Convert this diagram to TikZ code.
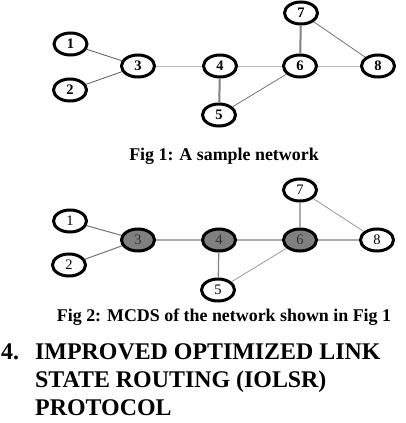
\documentclass[tikz,border=0pt]{standalone}
\usepackage{fontspec}
\setmainfont{Liberation Serif}
\usepackage{xcolor}
\usetikzlibrary{shapes.geometric}

\definecolor{mcdsfill}{HTML}{808080}
\definecolor{mcdstext}{HTML}{333333}

\tikzset{
  host/.style={ellipse, draw=black, line width=3pt, fill=white,
    minimum width=33pt, minimum height=22pt, inner sep=0pt,
    font=\fontsize{14.5}{14.5}\selectfont\bfseries},
  dominator/.style={host, fill=mcdsfill, text=mcdstext,
    font=\fontsize{14.5}{14.5}\selectfont},
  plain/.style={host, font=\fontsize{14.5}{14.5}\selectfont},
  caption/.style={anchor=base, inner sep=0pt,
    font=\fontsize{17.9}{18}\selectfont\bfseries},
  heading/.style={anchor=base west, inner sep=0pt,
    font=\fontsize{23.9}{28}\selectfont\bfseries}
}

\begin{document}
\begin{tikzpicture}[x=1pt,y=-1pt]
        \useasboundingbox[fill=white] (0,0) rectangle (405,423);

        % first graph
        \node[host] (n1) at (70.5,44) {1};
        \node[host] (n2) at (70,90) {2};
        \node[host] (n3) at (138,66) {3};
        \node[host] (n4) at (220,66) {4};
        \node[host] (n5) at (219,115) {5};
        \node[host] (n6) at (300,66) {6};
        \node[host] (n7) at (301,13) {7};
        \node[host] (n8) at (378,66) {8};
        \draw[black!65, line width=0.8pt] (n1) -- (n3) (n2) -- (n3);
        \draw[black!25, line width=0.8pt] (n3) -- (n4) -- (n6) -- (n8);
        \draw[black!50, line width=2pt] (n4) -- (n5) (n6) -- (n7);
        \draw[black!55, line width=0.8pt] (n5) -- (n6) (n7) -- (n8);
        \node[caption] (cap1) at (224,160) {Fig 1: A sample network};

        % second graph, dominating set shaded
        \node[plain] (m1) at (70,221) {1};
        \node[plain] (m2) at (69,265) {2};
        \node[dominator] (m3) at (138,240) {3};
        \node[dominator] (m4) at (219,240) {4};
        \node[plain] (m5) at (218,290) {5};
        \node[dominator] (m6) at (300,240) {6};
        \node[plain] (m7) at (300,190) {7};
        \node[plain] (m8) at (377,240) {8};
        \draw[black!55, line width=1pt] (m1) -- (m3) (m2) -- (m3);
        \draw[black!50, line width=1.2pt] (m3) -- (m4) -- (m6) -- (m8) (m4) -- (m5) (m6) -- (m7);
        \draw[black!40, line width=0.8pt] (m5) -- (m6) (m7) -- (m8);
        \node[caption] (cap2) at (224,321) {Fig 2: MCDS of the network shown in Fig 1};

        \node[heading] (num) at (1,359) {4.};
        \node[heading] (head1) at (35,359) {IMPROVED OPTIMIZED LINK};
        \node[heading] (head2) at (35,387) {STATE ROUTING (IOLSR)};
        \node[heading] (head3) at (35,415) {PROTOCOL};
      \end{tikzpicture}
\end{document}
